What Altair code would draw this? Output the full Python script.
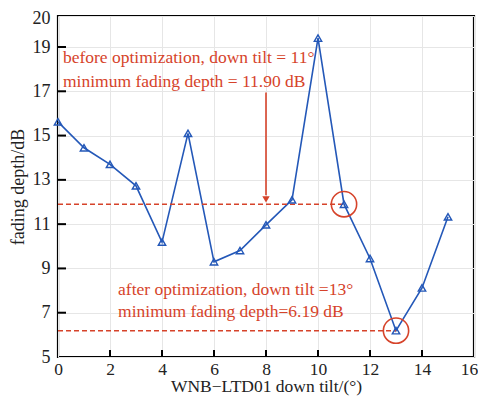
import altair as alt
import pandas as pd

tilt = list(range(16))
depth = [15.62, 14.45, 13.7, 12.73, 10.19, 15.1, 9.3, 9.81, 10.97, 12.1,
         19.4, 11.9, 9.45, 6.19, 8.12, 11.33]

x_ticks = list(range(0, 17, 2))
y_ticks = [5, 7, 9, 11, 13, 15, 17, 19]

before_tilt, before_depth = 11, 11.90
after_tilt, after_depth = 13, 6.19

BLUE = "#2458b8"
RED = "#d6432a"
FONT = "Liberation Serif"

df = pd.DataFrame({"tilt": tilt, "depth": depth})

xs = alt.Scale(domain=[0, 16], nice=False)
ys = alt.Scale(domain=[5, 20.4], nice=False)

X = alt.X("tilt:Q", scale=xs,
          axis=alt.Axis(values=x_ticks, title="WNB\u2212LTD01 down tilt/(\u00b0)",
                        ticks=False, domain=False, labelPadding=3, titlePadding=0,
                        labelFontSize=17.5, titleFontSize=17.5,
                        labelOffset=alt.condition("datum.value == 16", alt.value(-5), alt.value(0)),
                        gridColor="#e6e6e6", labelFlush=False))
Y = alt.Y("depth:Q", scale=ys,
          axis=alt.Axis(values=y_ticks + [20.4], title="fading depth/dB",
                        labelExpr="datum.value > 20 ? '20' : datum.label",
                        labelOffset=alt.condition("datum.value > 20", alt.value(2), alt.value(0)),
                        ticks=False, domain=False, labelPadding=8, titlePadding=5,
                        gridColor="#e6e6e6"))

base = alt.Chart(df)

line = base.mark_line(color=BLUE, strokeWidth=1.6).encode(x=X, y=Y)
pts = base.mark_point(shape="triangle-up", filled=False, color=BLUE,
                      strokeWidth=1.4, size=55, opacity=1).encode(x="tilt:Q", y="depth:Q")

# inward ticks
xt = alt.Chart(pd.DataFrame({"v": x_ticks[1:-1]})).mark_rule(color="black", strokeWidth=2).encode(
    x=alt.X("v:Q", scale=xs), y=alt.value(341), y2=alt.value(334))
yt = alt.Chart(pd.DataFrame({"v": y_ticks[1:]})).mark_rule(color="black", strokeWidth=2).encode(
    y=alt.Y("v:Q", scale=ys), x=alt.value(0), x2=alt.value(8))

# dashed reference lines
ref = pd.DataFrame({"x0": [0, 0], "x1": [before_tilt, after_tilt],
                    "y": [before_depth, after_depth]})
dash = alt.Chart(ref).mark_rule(color=RED, strokeWidth=1.5, strokeDash=[5, 3]).encode(
    x=alt.X("x0:Q", scale=xs), x2="x1:Q", y=alt.Y("y:Q", scale=ys))

circ = alt.Chart(pd.DataFrame({"x": [before_tilt, after_tilt],
                               "y": [before_depth, after_depth]})).mark_point(
    shape="circle", filled=False, color=RED, strokeWidth=1.6, size=640, opacity=1).encode(
    x=alt.X("x:Q", scale=xs), y=alt.Y("y:Q", scale=ys))

arrow = alt.Chart(pd.DataFrame({"x": [8], "y1": [16.95], "y2": [12.3]})).mark_rule(
    color=RED, strokeWidth=1.6).encode(
    x=alt.X("x:Q", scale=xs), y=alt.Y("y1:Q", scale=ys), y2="y2:Q")
head = alt.Chart(pd.DataFrame({"x": [8], "y": [12.12]})).mark_point(
    shape="triangle-down", filled=True, color=RED, size=55, opacity=1).encode(
    x=alt.X("x:Q", scale=xs), y=alt.Y("y:Q", scale=ys))

texts = pd.DataFrame({
    "x": [0.19, 0.19, 2.31, 2.31],
    "y": [18.5, 17.42, 8.02, 7.04],
    "t": ["before optimization, down tilt = 11\u00b0",
          "minimum fading depth = 11.90 dB",
          "after optimization, down tilt =13\u00b0",
          "minimum fading depth=6.19 dB"],
})
txt = alt.Chart(texts).mark_text(align="left", baseline="middle", font=FONT,
                                 fontSize=17.5, color=RED).encode(
    x=alt.X("x:Q", scale=xs), y=alt.Y("y:Q", scale=ys), text="t:N")

chart = alt.layer(line, dash, arrow, head, circ, pts, xt, yt, txt).properties(
    width=416, height=341,
    autosize=alt.AutoSizeParams(type="none"),
    padding={"left": 50, "top": 8, "right": 4, "bottom": 39},
).configure_view(stroke="black", strokeWidth=2.2).configure_axis(
    labelFont=FONT, titleFont=FONT, labelFontSize=18, titleFontSize=18,
    labelColor="#222", titleColor="#222", titleFontWeight="normal",
    gridWidth=1, labelOverlap=False, labelBound=False)

chart.save("out.html", embed_options={"renderer": "svg", "actions": False})
